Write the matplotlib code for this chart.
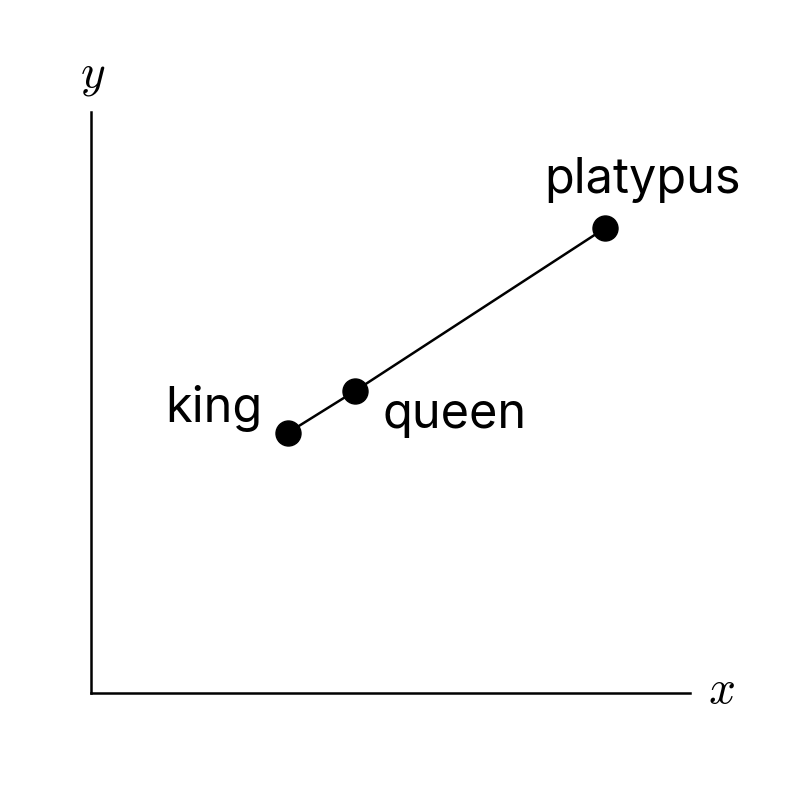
import matplotlib
matplotlib.use("Agg")
import matplotlib.pyplot as plt

plt.rcParams["mathtext.fontset"] = "cm"

names = ["king", "queen", "platypus"]
xs = [0.329, 0.441, 0.858]
ys = [0.448, 0.520, 0.800]

fig = plt.figure(figsize=(8, 8), dpi=100)
ax = fig.add_axes([91/800, 1-693/800, 599/800, 581/800])
ax.set_xlim(0, 1)
ax.set_ylim(0, 1)
for s in ["top", "right"]:
    ax.spines[s].set_visible(False)
for s in ["left", "bottom"]:
    ax.spines[s].set_linewidth(1.8)
ax.set_xticks([])
ax.set_yticks([])

ax.plot(xs, ys, color="black", lw=1.8, marker="o", markersize=18, zorder=3)

fam = ["Inter", "DejaVu Sans"]
fs = 35
ax.annotate(names[0], (xs[0], ys[0]), xytext=(-18.7, 7.9), textcoords="offset points",
            ha="right", va="baseline", fontsize=fs, family=fam)
ax.annotate(names[1], (xs[1], ys[1]), xytext=(19.4, -26.6), textcoords="offset points",
            ha="left", va="baseline", fontsize=fs, family=fam)
ax.annotate(names[2], (xs[2], ys[2]), xytext=(27.4, 25.2), textcoords="offset points",
            ha="center", va="baseline", fontsize=fs, family=fam)

fig.text(93/800, 1-75/800, "$y$", fontsize=34, ha="center", va="center")
fig.text(721/800, 1-690/800, "$x$", fontsize=34, ha="center", va="center")

fig.savefig("out.png", dpi=100, facecolor="white")
